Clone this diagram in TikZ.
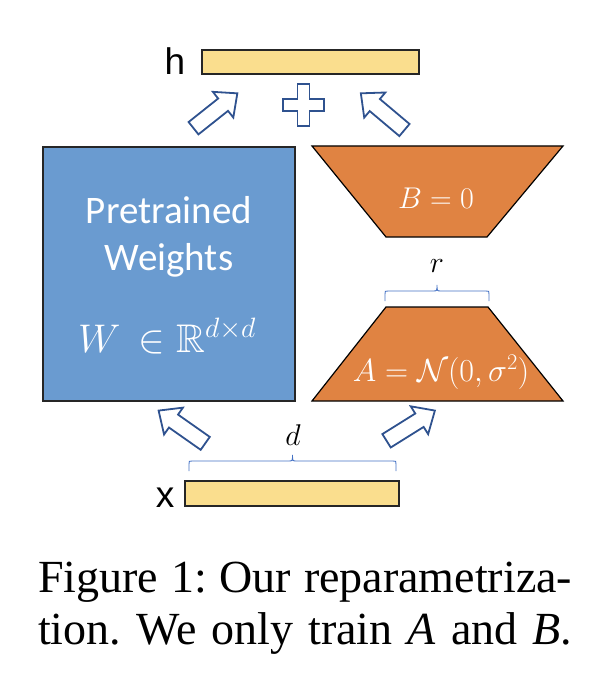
\RequirePackage{fix-cm}
\documentclass[tikz,border=0pt]{standalone}
\usepackage{amsmath,amssymb}
\usepackage{fontspec}
\usetikzlibrary{shapes.arrows}
\newfontfamily\calfont{Carlito}
\newfontfamily\arialfont{Liberation Sans}
\newfontfamily\timesfont{Liberation Serif}
\definecolor{wblue}{RGB}{106,155,208}
\definecolor{lorange}{RGB}{224,131,66}
\definecolor{vyellow}{RGB}{250,222,142}
\definecolor{arrblue}{RGB}{47,82,143}
\definecolor{brblue}{RGB}{68,114,196}
\tikzset{
  vecbar/.style={draw=black!85, line width=1.3pt, fill=vyellow},
  wbox/.style={draw=black!85, line width=1.3pt, fill=wblue},
  trap/.style={draw=black, line width=1.2pt, fill=lorange},
  blockarrow/.style={single arrow, draw=arrblue, line width=1.8pt, fill=white,
    inner xsep=0pt, inner ysep=7pt, single arrow head extend=8.5pt,
    single arrow tip angle=84, outer sep=0pt},
  bracestyle/.style={draw=brblue, line width=0.9pt},
  wtext/.style={text=white, inner sep=0pt, anchor=base},
  lbl/.style={inner sep=0pt, anchor=base},
  captext/.style={inner sep=0pt, font=\timesfont\fontsize{46}{52}\selectfont}
}
\newcommand\mybrace[3]{% left x, right x, bottom y
  \draw[bracestyle] (#1,#3) -- (#1,#3-7) .. controls (#1,#3-10) .. (#1+3,#3-10)
    -- ({(#1+#2)/2-4},#3-10) .. controls ({(#1+#2)/2},#3-10) .. ({(#1+#2)/2},#3-16)
    .. controls ({(#1+#2)/2},#3-10) .. ({(#1+#2)/2+4},#3-10)
    -- (#2-3,#3-10) .. controls (#2,#3-10) .. (#2,#3-7) -- (#2,#3);}
\begin{document}
\frenchspacing
\begin{tikzpicture}[x=1pt,y=-1pt]
\useasboundingbox (0,0) rectangle (600,676);
% output and input vectors
\node[vecbar, minimum width=217pt, minimum height=24pt, inner sep=0pt] (hbar) at (310.5,62) {};
\node[lbl, font=\arialfont\fontsize{37}{40}\selectfont] (hlab) at (175,75) {h};
\node[vecbar, minimum width=214pt, minimum height=25pt, inner sep=0pt] (xbar) at (292,493.5) {};
\node[lbl, font=\arialfont\fontsize{37}{40}\selectfont] (xlab) at (165,507) {x};
% pretrained weights
\node[wbox, minimum width=252pt, minimum height=254pt, inner sep=0pt] (W) at (169,274) {};
\node[wtext, font=\calfont\fontsize{39}{44}\selectfont] (wt1) at (169,223) {Pretrained};
\node[wtext, font=\calfont\fontsize{39}{44}\selectfont] (wt2) at (169,270) {Weights};
\node[wtext, font=\fontsize{40}{44}\selectfont] (wt3) at (167,352) {$W\,\in\mathbb{R}^{d\times d}$};
% B and A
\path[trap] (312,146) -- (563,146) -- (487,237) -- (386,237) -- cycle;
\node[wtext, font=\fontsize{30}{34}\selectfont] (Bt) at (436,208) {$B=0$};
\path[trap] (386,307) -- (488,307) -- (563,401) -- (312,401) -- cycle;
\node[wtext, font=\fontsize{32}{36}\selectfont] (At) at (441,381) {$A=\mathcal{N}(0,\sigma^2)$};
% braces
\mybrace{385}{489}{301}
\node[lbl, font=\fontsize{30}{34}\selectfont] (rlab) at (437,272) {$r$};
\mybrace{189}{396}{471}
\node[lbl, font=\fontsize{30}{34}\selectfont] (dlab) at (293,445) {$d$};
% block arrows
\node[blockarrow, minimum height=56pt, rotate=38.5] (a1) at (212,113.5) {};
\node[blockarrow, minimum height=57pt, rotate=139.9] (a2) at (386,114.5) {};
\node[blockarrow, minimum height=57pt, rotate=144.9] (a3) at (185.5,429.5) {};
\node[blockarrow, minimum height=57pt, rotate=32] (a4) at (407,428) {};
% plus sign
\draw[arrblue, line width=1.8pt, fill=white]
  (297.5,84) -- (309.5,84) -- (309.5,99) -- (324,99) -- (324,111) -- (309.5,111)
  -- (309.5,126) -- (297.5,126) -- (297.5,111) -- (283,111) -- (283,99) -- (297.5,99) -- cycle;
% caption
\node[captext, anchor=base west] (cap1) at (38,592) {\makebox[534pt][s]{Figure 1: Our reparametriza-}};
\node[captext, anchor=base west] (cap2) at (38,644) {\makebox[534pt][s]{tion. We only train \textit{A} and \textit{B}.}};
\end{tikzpicture}
\end{document}
